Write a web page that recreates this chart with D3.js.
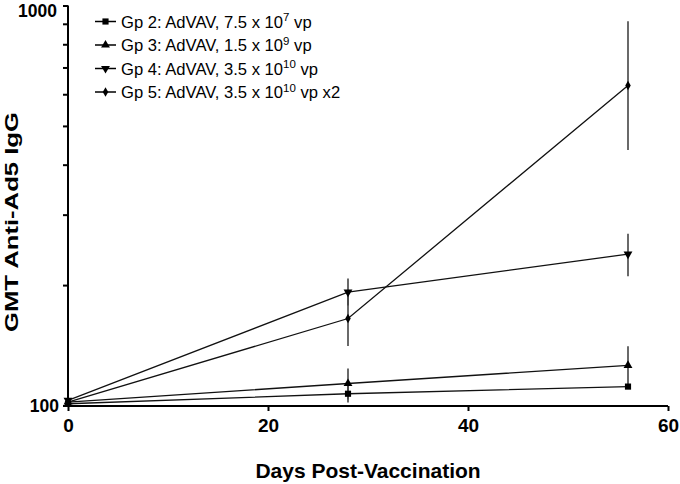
<!DOCTYPE html>
<html><head><meta charset="utf-8">
<script src="https://cdn.jsdelivr.net/npm/d3@7"></script>
<style>
html,body{margin:0;padding:0;background:#fff;}
svg{display:block;font-family:"Liberation Sans",Arial,sans-serif;}
</style></head>
<body>
<svg id="chart" width="680" height="484"></svg>
<script>
// ---- data ----
const days = [0, 28, 56];
const seriesNames = [
  ["Gp 2: AdVAV, 7.5 x 10", "7", " vp"],
  ["Gp 3: AdVAV, 1.5 x 10", "9", " vp"],
  ["Gp 4: AdVAV, 3.5 x 10", "10", " vp"],
  ["Gp 5: AdVAV, 3.5 x 10", "10", " vp x2"]
];
const gp2 = [101, 107, 111.5];
const gp3 = [102, 113.5, 126];
const gp4 = [103, 192, 239];
const gp5 = [102, 165, 631];
const gp2Lo = [101, 101.7, 110];
const gp2Hi = [101, 112, 113];
const gp3Lo = [102, 103.5, 112.8];
const gp3Hi = [102, 123.8, 140.7];
const gp4Lo = [103, 177.8, 210.5];
const gp4Hi = [103, 207.7, 268.7];
const gp5Lo = [102, 140.9, 435];
const gp5Hi = [102, 192.8, 913];
const xTicks = [0, 20, 40, 60];
const yMajor = [100, 1000];
const yMinor = [200, 300, 400, 500, 600, 700, 800, 900];

const series = [
  {vals: gp2, lo: gp2Lo, hi: gp2Hi, sym: d3.symbolSquare, size: 38, rot: 0},
  {vals: gp3, lo: gp3Lo, hi: gp3Hi, sym: d3.symbolTriangle, size: 34, rot: 0},
  {vals: gp4, lo: gp4Lo, hi: gp4Hi, sym: d3.symbolTriangle, size: 34, rot: 180},
  {vals: gp5, lo: gp5Lo, hi: gp5Hi, sym: d3.symbolDiamond, size: 26, rot: 0}
];

const svg = d3.select("#chart");
const x = d3.scaleLinear().domain([0, 60]).range([68, 668]);
const y = d3.scaleLog().domain([100, 1000]).range([405.5, 5.5]);

// axes
const xAxis = svg.append("g").attr("transform", "translate(0,406)")
  .call(d3.axisBottom(x).tickValues(xTicks).tickSize(5).tickPadding(8).tickFormat(d3.format("d")));
const yAxis = svg.append("g").attr("transform", "translate(68,0)")
  .call(d3.axisLeft(y).tickValues(yMajor.concat(yMinor)).tickSize(5).tickPadding(4)
    .tickFormat(d => yMajor.includes(d) ? d : ""));
[xAxis, yAxis].forEach(a => {
  a.select(".domain").attr("stroke", "#000").attr("stroke-width", 2);
  a.selectAll(".tick line").attr("stroke", "#000").attr("stroke-width", 2);
  a.selectAll(".tick text").attr("fill", "#000").attr("font-weight", "bold")
    .attr("font-family", "'Liberation Sans', Arial, sans-serif");
});
xAxis.select(".domain").attr("d", `M${x(0)},0H${x(60)}`);
yAxis.select(".domain").attr("d", `M0,${y(100)}V${y(1000)}`);
xAxis.selectAll(".tick text").attr("font-size", 19);
yAxis.selectAll(".tick text").attr("font-size", 17.5);
yAxis.selectAll(".tick").filter(d => d === 1000).select("text").attr("dy", "0.62em").attr("dx", -2);

// axis titles
svg.append("text").attr("x", 368).attr("y", 478).attr("text-anchor", "middle")
  .attr("font-size", 21).attr("font-weight", "bold").text("Days Post-Vaccination");
svg.append("text").attr("transform", "translate(18,222) rotate(-90)")
  .attr("text-anchor", "middle").attr("font-size", 19).attr("font-weight", "bold")
  .attr("textLength", 220).attr("lengthAdjust", "spacingAndGlyphs")
  .text("GMT Anti-Ad5 IgG");

// error bars
series.forEach(s => {
  svg.append("g").selectAll("line").data(days).join("line")
    .attr("x1", d => x(d)).attr("x2", d => x(d))
    .attr("y1", (d, i) => y(s.lo[i])).attr("y2", (d, i) => y(s.hi[i]))
    .attr("stroke", "#444").attr("stroke-width", 1.6);
});

// lines
const line = d3.line().x((d, i) => x(days[i])).y(d => y(d));
series.forEach(s => {
  svg.append("path").datum(s.vals).attr("d", line)
    .attr("fill", "none").attr("stroke", "#111").attr("stroke-width", 1.3);
});

// markers
series.forEach(s => {
  svg.append("g").selectAll("path").data(s.vals).join("path")
    .attr("d", d3.symbol().type(s.sym).size(s.size))
    .attr("transform", (d, i) => `translate(${x(days[i])},${y(d)}) rotate(${s.rot})`)
    .attr("fill", "#000");
});

// legend
const legY = [21.5, 45, 68.5, 92];
series.forEach((s, i) => {
  const g = svg.append("g").attr("transform", `translate(0,${legY[i]})`);
  g.append("line").attr("x1", 95).attr("x2", 116).attr("y1", 0).attr("y2", 0)
    .attr("stroke", "#000").attr("stroke-width", 1.5);
  g.append("path").attr("d", d3.symbol().type(s.sym).size(s.size))
    .attr("transform", `translate(105.5,0) rotate(${s.rot})`).attr("fill", "#000");
  const t = g.append("text").attr("x", 121).attr("y", 6).attr("font-size", 16.6).attr("fill", "#000");
  t.append("tspan").text(seriesNames[i][0]);
  t.append("tspan").attr("dy", -6.5).attr("font-size", 11.5).text(seriesNames[i][1]);
  t.append("tspan").attr("dy", 6.5).text(seriesNames[i][2]);
});
</script>
</body></html>
